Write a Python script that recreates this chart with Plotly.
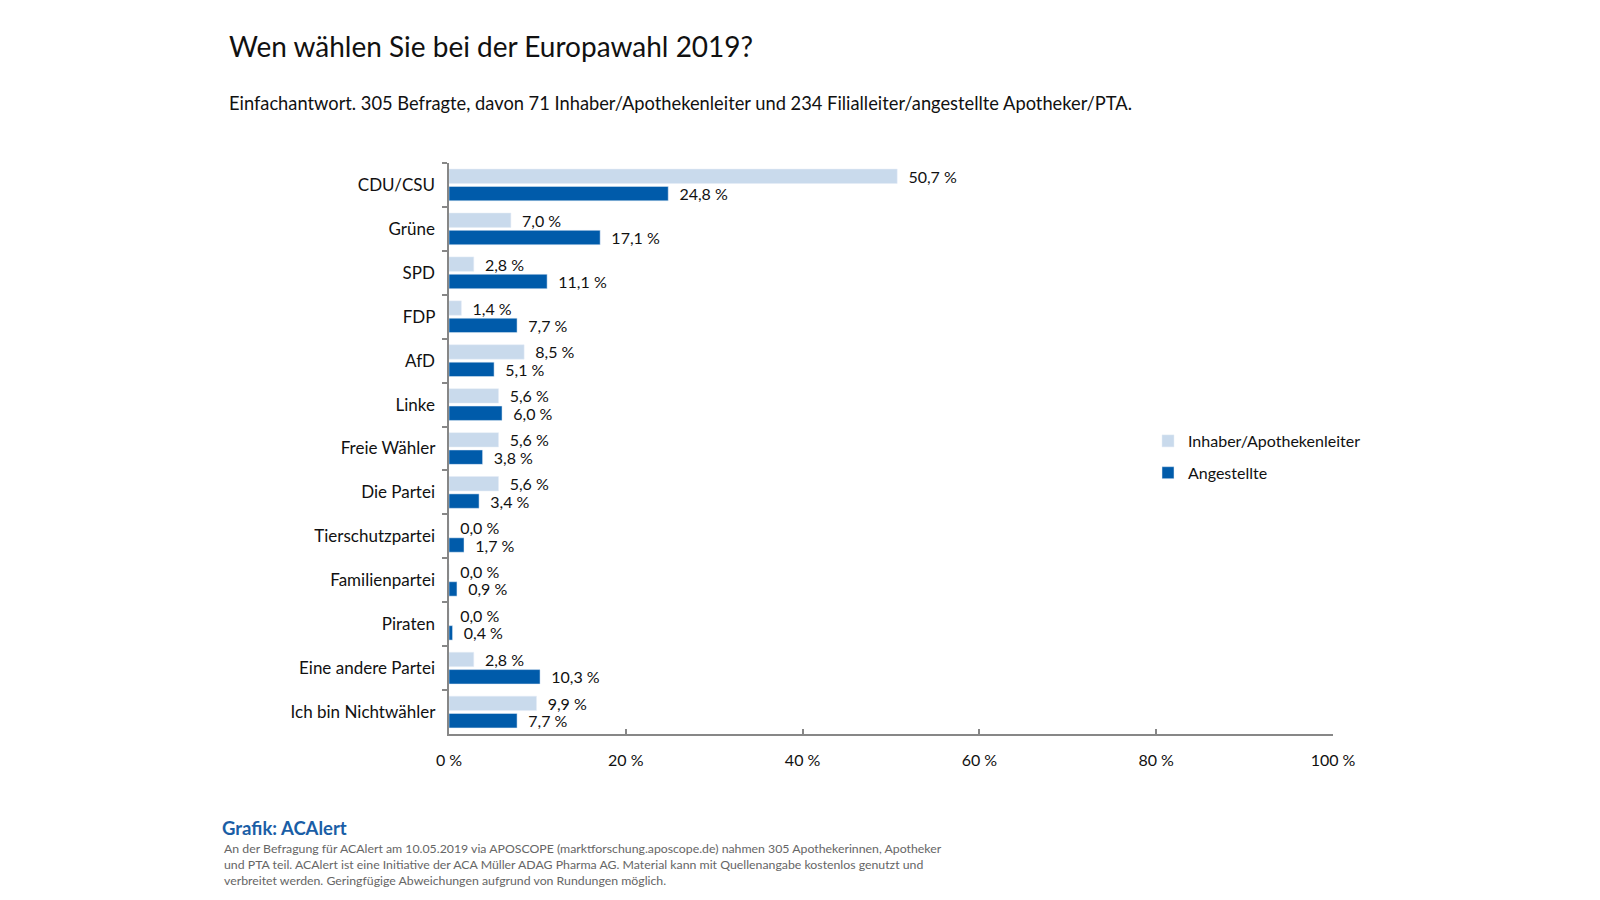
import plotly.graph_objects as go

categories = ["CDU/CSU", "Grüne", "SPD", "FDP", "AfD", "Linke", "Freie Wähler",
              "Die Partei", "Tierschutzpartei", "Familienpartei", "Piraten",
              "Eine andere Partei", "Ich bin Nichtwähler"]
inhaber = [50.7, 7.0, 2.8, 1.4, 8.5, 5.6, 5.6, 5.6, 0.0, 0.0, 0.0, 2.8, 9.9]
angestellte = [24.8, 17.1, 11.1, 7.7, 5.1, 6.0, 3.8, 3.4, 1.7, 0.9, 0.4, 10.3, 7.7]
x_ticks = [0, 20, 40, 60, 80, 100]
x_tick_labels = ["0 %", "20 %", "40 %", "60 %", "80 %", "100 %"]

FONT = "Lato, 'Open Sans', sans-serif"
LIGHT = "#C9DAEC"
DARK = "#005BAA"
AXIS = "#878787"

# plot area in pixels
L, R, T, B = 441, 1325, 155, 726
W, H = R - L, B - T


def px(x):
    return (x - L) / W


def py(y):
    return (B - y) / H


def fmt(v):
    return "\u00a0\u00a0" + f"{v:.1f}".replace(".", ",") + " %"


fig = go.Figure()
fig.add_trace(go.Bar(
    y=categories, x=inhaber, orientation="h", name="Inhaber/Apothekenleiter",
    legendgroup="a",
    marker_color=LIGHT, text=[fmt(v) for v in inhaber], textposition="outside",
    constraintext="none",
    textfont=dict(size=16, color="#111", family=FONT), cliponaxis=False,
))
fig.add_trace(go.Bar(
    y=categories, x=angestellte, orientation="h", name="Angestellte",
    legendgroup="b",
    marker_color=DARK, text=[fmt(v) for v in angestellte], textposition="outside",
    constraintext="none",
    textfont=dict(size=16, color="#111", family=FONT), cliponaxis=False,
))

fig.update_layout(
    width=1600, height=900,
    paper_bgcolor="white", plot_bgcolor="white",
    margin=dict(l=L, r=1600 - R, t=T, b=900 - B),
    barmode="group", bargap=0.21, bargroupgap=0.17,
    font=dict(family=FONT, color="#111"),
    showlegend=True,
    legend=dict(x=px(1140), y=py(449), xanchor="left", yanchor="middle",
                font=dict(size=16, family=FONT, color="#111"),
                traceorder="grouped", itemwidth=30, tracegroupgap=8),
)
fig.update_xaxes(
    range=[0, 100], tickmode="array", tickvals=x_ticks, ticktext=x_tick_labels,
    showgrid=False, zeroline=False, showline=True, linecolor=AXIS, linewidth=1.8,
    ticks="inside", ticklen=5, tickcolor=AXIS, tickwidth=1.8,
    ticklabelstandoff=11,
    tickfont=dict(size=16, family=FONT, color="#111"),
)
fig.update_yaxes(
    autorange="reversed", showgrid=False, showline=True, linecolor=AXIS, linewidth=1.8,
    ticks="outside", tickson="boundaries", ticklen=5, tickcolor=AXIS, tickwidth=1.5,
    tickfont=dict(size=17, family=FONT, color="#111"), ticksuffix="  ",
)

fig.add_annotation(text="Wen wählen Sie bei der Europawahl 2019?", xref="paper", yref="paper",
                   x=px(219), y=py(38), xanchor="left", yanchor="middle",
                   showarrow=False, font=dict(size=28, family=FONT, color="#111"))
fig.add_annotation(text="Einfachantwort. 305 Befragte, davon 71 Inhaber/Apothekenleiter und 234 Filialleiter/angestellte Apotheker/PTA.",
                   xref="paper", yref="paper",
                   x=px(219), y=py(95), xanchor="left", yanchor="middle",
                   showarrow=False, font=dict(size=18.3, family=FONT, color="#111"))
fig.add_annotation(text="<b>Grafik: ACAlert</b>", xref="paper", yref="paper",
                   x=px(212), y=py(820), xanchor="left", yanchor="middle",
                   showarrow=False, font=dict(size=18.5, family=FONT, color="#1a5ea6"))
footer = ("An der Befragung für ACAlert am 10.05.2019 via APOSCOPE (marktforschung.aposcope.de) nahmen 305 Apothekerinnen, Apotheker<br>"
          "und PTA teil. ACAlert ist eine Initiative der ACA Müller ADAG Pharma AG. Material kann mit Quellenangabe kostenlos genutzt und<br>"
          "verbreitet werden. Geringfügige Abweichungen aufgrund von Rundungen möglich.")
fig.add_annotation(text=footer, xref="paper", yref="paper",
                   x=px(214), y=py(831), xanchor="left", yanchor="top",
                   align="left", showarrow=False,
                   font=dict(size=12.3, family=FONT, color="#666"))

fig.write_html("out.html")
